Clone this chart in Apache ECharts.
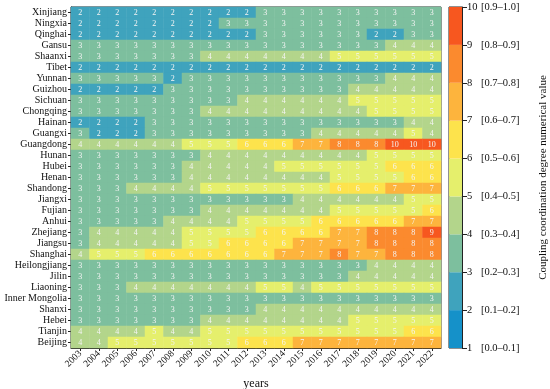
<!DOCTYPE html>
<html><head><meta charset="utf-8">
<script src="https://cdn.jsdelivr.net/npm/echarts@6/dist/echarts.min.js"></script>
<style>html,body{margin:0;padding:0;background:#fff}#c{width:550px;height:389px}</style>
</head><body><div id="c"></div>
<script>
const years = ['2003','2004','2005','2006','2007','2008','2009','2010','2011','2012','2013','2014','2015','2016','2017','2018','2019','2020','2021','2022'];
const provinces = ['Xinjiang','Ningxia','Qinghai','Gansu','Shaanxi','Tibet','Yunnan','Guizhou','Sichuan','Chongqing','Hainan','Guangxi','Guangdong','Hunan','Hubei','Henan','Shandong','Jiangxi','Fujian','Anhui','Zhejiang','Jiangsu','Shanghai','Heilongjiang','Jilin','Liaoning','Inner Mongolia','Shanxi','Hebei','Tianjin','Beijing'];
const levels = [
 [2,2,2,2,2,2,2,2,2,2,3,3,3,3,3,3,3,3,3,3],
 [2,2,2,2,2,2,2,2,3,3,3,3,3,3,3,3,3,3,3,3],
 [2,2,2,2,2,2,2,2,2,2,3,3,3,3,3,3,2,2,3,3],
 [3,3,3,3,3,3,3,3,3,3,3,3,3,3,3,3,3,4,4,4],
 [3,3,3,3,3,3,3,4,4,4,4,4,4,4,5,5,5,5,5,5],
 [2,2,2,2,2,2,2,2,2,2,2,2,2,2,2,2,2,2,2,2],
 [3,3,3,3,3,2,3,3,3,3,3,3,3,3,3,3,3,4,4,4],
 [2,2,2,2,2,3,3,3,3,3,3,3,3,3,3,4,4,4,4,4],
 [3,3,3,3,3,3,3,3,3,4,4,4,4,4,4,5,5,5,5,5],
 [3,3,3,3,3,3,3,4,4,4,4,4,4,4,4,4,5,5,5,5],
 [2,2,2,2,3,3,3,3,3,3,3,3,3,3,3,3,3,3,4,4],
 [3,2,2,2,3,3,3,3,3,3,3,3,3,4,4,4,4,4,5,4],
 [4,4,4,4,4,4,5,5,5,6,6,6,7,7,8,8,8,10,10,10],
 [3,3,3,3,3,3,3,4,4,4,4,4,4,4,4,4,5,5,5,5],
 [3,3,3,3,3,3,4,4,4,4,4,5,5,5,5,5,5,6,6,6],
 [3,3,3,3,3,3,4,4,4,4,4,4,4,4,5,5,5,5,6,6],
 [3,3,3,4,4,4,4,5,5,5,5,5,5,5,6,6,6,7,7,7],
 [3,3,3,3,3,3,3,3,3,3,3,3,4,4,4,4,4,4,5,5],
 [3,3,3,3,3,3,3,4,4,4,4,4,4,4,5,5,5,5,5,6],
 [3,3,3,3,3,4,4,4,4,5,5,5,5,6,6,6,6,6,7,7],
 [3,4,4,4,4,4,5,5,5,5,6,6,6,6,7,7,8,8,8,9],
 [3,4,4,4,4,4,5,5,6,6,6,6,7,7,7,7,8,8,8,8],
 [4,5,5,5,6,6,6,6,6,6,6,7,7,7,8,7,7,8,8,8],
 [3,3,3,3,3,3,3,3,3,3,3,3,3,3,3,3,4,4,4,4],
 [3,3,3,3,3,3,3,3,3,3,3,3,3,3,3,4,4,4,4,4],
 [3,3,3,4,4,4,4,4,4,4,5,5,4,5,5,5,5,5,5,5],
 [3,3,3,3,3,3,3,3,3,3,3,3,3,3,3,3,3,3,3,3],
 [3,3,3,3,3,3,3,3,3,3,4,4,4,4,4,4,4,4,4,4],
 [3,3,3,3,3,3,3,4,4,4,4,4,4,4,4,5,5,5,5,5],
 [4,4,4,4,5,4,4,5,5,5,5,5,5,5,5,5,5,5,6,6],
 [4,4,5,5,5,5,5,5,5,6,6,6,7,7,7,7,7,7,7,7]
];
const segColors = ['#1591c9','#3fa3bd','#7dbf9e','#b3d58b','#e5ef6c','#fde34c','#fdb43d','#fb8a2e','#f7571f'];
const segRanges = ['[0.0–0.1]','[0.1–0.2]','[0.2–0.3]','[0.3–0.4]','[0.4–0.5]','[0.5–0.6]','[0.6–0.7]','[0.7–0.8]','[0.8–0.9]','[0.9–1.0]'];

const data = [];
levels.forEach((row, yi) => row.forEach((v, xi) => data.push([xi, yi, v])));
const pieces = [];
for (let v = 1; v <= 10; v++) pieces.push({value: v, color: segColors[Math.min(v - 1, 8)]});

const FONT = 'Liberation Serif';
const series = [{
  type: 'heatmap', xAxisIndex: 0, yAxisIndex: 0, data: data,
  label: {show: true, color: '#f4f4f4', fontSize: 8, fontFamily: FONT},
  itemStyle: {borderWidth: 0}, emphasis: {disabled: true}
}];
segColors.forEach((c, i) => series.push({
  type: 'bar', xAxisIndex: 1, yAxisIndex: 1, stack: 'cb', barWidth: '100%',
  data: [1], itemStyle: {color: c}, silent: true
}));

const chart = echarts.init(document.getElementById('c'));
chart.setOption({
  animation: false,
  textStyle: {fontFamily: FONT},
  grid: [
    {left: 71, top: 7, width: 370, height: 341, outerBoundsMode: 'none', containLabel: false, show: true, borderColor: '#222', borderWidth: 1, backgroundColor: 'transparent'},
    {left: 449, top: 7, width: 13, height: 341, outerBoundsMode: 'none', containLabel: false, show: true, borderColor: '#222', borderWidth: 1, backgroundColor: 'transparent'}
  ],
  xAxis: [
    {type: 'category', gridIndex: 0, data: years, name: 'years', nameLocation: 'middle', nameGap: 30,
     nameTextStyle: {fontSize: 12, color: '#111', fontFamily: FONT},
     axisLine: {show: true, lineStyle: {color: '#222'}}, axisTick: {show: true, alignWithLabel: true, length: 3, lineStyle: {color: '#222'}},
     axisLabel: {rotate: 45, fontSize: 9.5, color: '#111', margin: 4, interval: 0, fontFamily: FONT}, splitLine: {show: false}},
    {type: 'category', gridIndex: 1, data: ['cb'], show: false}
  ],
  yAxis: [
    {type: 'category', gridIndex: 0, data: provinces, inverse: true, name: 'provinces', nameLocation: 'middle', nameGap: 56,
     nameTextStyle: {fontSize: 12, color: '#111', fontFamily: FONT},
     axisLine: {show: true, lineStyle: {color: '#222'}}, axisTick: {show: true, alignWithLabel: true, length: 3, lineStyle: {color: '#222'}},
     axisLabel: {fontSize: 10, color: '#111', margin: 4, interval: 0, fontFamily: FONT}, splitLine: {show: false}},
    {type: 'value', gridIndex: 1, min: 0, max: 9, interval: 1, position: 'right',
     name: 'Coupling coordination degree numerical value', nameLocation: 'middle', nameGap: 76, nameRotate: 90,
     nameTextStyle: {fontSize: 11, color: '#111', fontFamily: FONT},
     axisLine: {show: true, lineStyle: {color: '#222'}}, axisTick: {show: true, length: 5, lineStyle: {color: '#222'}},
     splitLine: {show: false},
     axisLabel: {margin: 5, color: '#111', fontSize: 10.5, fontFamily: FONT,
       formatter: v => '{n|' + (v + 1) + '}{r|' + segRanges[v] + '}',
       rich: {n: {width: 14, fontSize: 10.5, fontFamily: FONT, color: '#111'}, r: {fontSize: 10.5, fontFamily: FONT, color: '#111'}}}}
  ],
  visualMap: {type: 'piecewise', show: false, seriesIndex: 0, dimension: 2, pieces: pieces},
  series: series
});
</script></body></html>
